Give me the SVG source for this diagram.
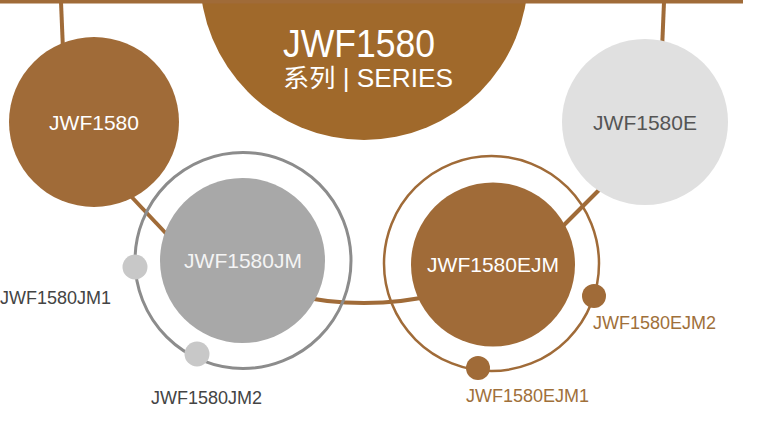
<svg xmlns="http://www.w3.org/2000/svg" width="772" height="422" viewBox="0 0 772 422">
<style>
.conn{stroke:#A06B38;stroke-width:4;fill:none}
.lbl{font-family:"Liberation Sans",Arial,sans-serif}
.node{font-size:21px;text-anchor:middle}
.small{font-size:18px}
</style>
<rect width="772" height="422" fill="#ffffff"/>
<g id="series">
<circle cx="364" cy="-24" r="164" fill="#A0692B"/>
<text class="lbl" x="283" y="57" font-size="38" fill="#ffffff" textLength="152" lengthAdjust="spacingAndGlyphs">JWF1580</text>
<text x="283" y="87" font-size="25" fill="#ffffff" font-family="'Liberation Sans','Noto Sans CJK SC',sans-serif" textLength="170" lengthAdjust="spacingAndGlyphs">系列 | SERIES</text>
</g>
<g id="connectors">
<line class="conn" x1="0" y1="1.5" x2="743" y2="1.5" stroke-width="3"/>
<line class="conn" x1="61" y1="2" x2="63" y2="50"/>
<line class="conn" x1="664" y1="2" x2="662" y2="50"/>
<line class="conn" x1="110" y1="174" x2="175" y2="243"/>
<line class="conn" x1="550" y1="239" x2="620" y2="169"/>
<path class="conn" d="M290 294.5 A327 327 0 0 0 440 294"/>
</g>
<g id="jwf1580">
<circle cx="94" cy="122" r="85" fill="#A06B38"/>
<text class="lbl node" x="94" y="130" fill="#ffffff">JWF1580</text>
</g>
<g id="jwf1580e">
<circle cx="645" cy="122" r="83" fill="#E0E0E0"/>
<text class="lbl node" x="645" y="130" fill="#555555">JWF1580E</text>
</g>
<g id="jwf1580jm">
<circle cx="243" cy="260.5" r="108" fill="none" stroke="#8C8C8C" stroke-width="3"/>
<circle cx="242.5" cy="260.5" r="82.5" fill="#A8A8A8"/>
<text class="lbl node" x="243" y="268" fill="#F4F4F4">JWF1580JM</text>
</g>
<g id="jwf1580jm1">
<circle cx="135" cy="267" r="12.5" fill="#C8C8C8"/>
<text class="lbl small" x="0" y="304" fill="#444444">JWF1580JM1</text>
</g>
<g id="jwf1580jm2">
<circle cx="197" cy="354" r="12.5" fill="#C8C8C8"/>
<text class="lbl small" x="151" y="404" fill="#444444">JWF1580JM2</text>
</g>
<g id="jwf1580ejm">
<circle cx="491.5" cy="263.5" r="107.5" fill="none" stroke="#A06B38" stroke-width="2.5"/>
<circle cx="493" cy="264.5" r="82" fill="#A06B38"/>
<text class="lbl node" x="493" y="272" fill="#ffffff">JWF1580EJM</text>
</g>
<g id="jwf1580ejm2">
<circle cx="594" cy="296" r="12" fill="#A06B38"/>
<text class="lbl small" x="593" y="329" fill="#A0703A">JWF1580EJM2</text>
</g>
<g id="jwf1580ejm1">
<circle cx="478" cy="368" r="12" fill="#A06B38"/>
<text class="lbl small" x="466" y="402" fill="#A0703A">JWF1580EJM1</text>
</g>
</svg>
